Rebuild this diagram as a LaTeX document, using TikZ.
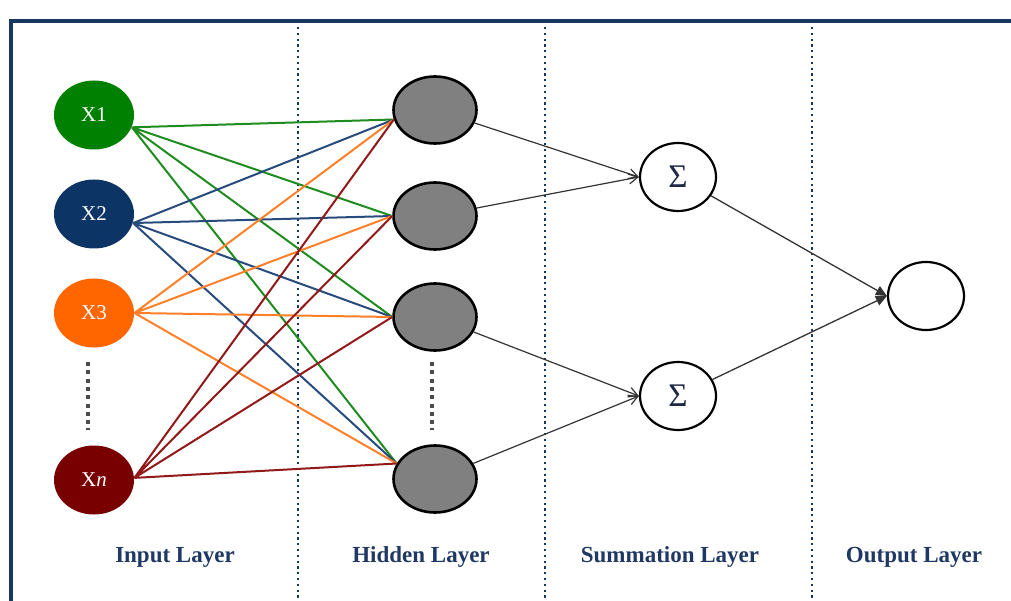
\documentclass[tikz,border=0pt]{standalone}
\usepackage{fontspec}
\setmainfont{Liberation Serif}
\usetikzlibrary{positioning, shapes.geometric, arrows.meta}

\definecolor{frameblue}{RGB}{23,55,94}
\definecolor{labelblue}{RGB}{31,56,100}
\definecolor{xgreen}{RGB}{0,128,0}
\definecolor{xblue}{RGB}{12,52,100}
\definecolor{xorange}{RGB}{255,102,0}
\definecolor{xred}{RGB}{120,0,0}
\definecolor{lgreen}{RGB}{30,140,30}
\definecolor{lblue}{RGB}{40,75,125}
\definecolor{lorange}{RGB}{255,128,40}
\definecolor{lred}{RGB}{145,25,25}
\definecolor{sigmablue}{RGB}{30,40,70}

\tikzset{
every picture/.style={
line width=1pt
}}

\begin{document}
\begin{tikzpicture}[x=1pt, y=1pt,
input/.style = {ellipse, minimum width=80pt, minimum height=69pt, inner sep=0pt, text=white, font=\fontsize{21}{24}\selectfont},
hidden/.style = {ellipse, draw=black, line width=2.6pt, fill=gray, minimum width=83pt, minimum height=67pt, inner sep=0pt},
sumnode/.style = {ellipse, draw=black, line width=2.2pt, fill=white, minimum width=76pt, minimum height=68pt, inner sep=0pt, text=sigmablue, font=\fontsize{33}{36}\selectfont},
layer/.style = {text=labelblue, font=\fontsize{23}{27}\selectfont\bfseries},
divider/.style = {draw=frameblue, line width=2.2pt, dash pattern=on 2.2pt off 3.6pt},
vdots/.style = {draw=black!70, line width=4pt, dash pattern=on 4pt off 4.3pt},
link/.style = {line width=2pt},
sumarrow/.style = {draw=black!80, line width=1.2pt, -{Straight Barb[length=9pt, width=10pt]}},
outarrow/.style = {draw=black!80, line width=1.3pt, -{Triangle[length=11pt, width=10pt]}},
node distance = 1cm]

\clip (0,0) rectangle (1011,-601);
\useasboundingbox (0,0) rectangle (1011,-601);

% frame and layer separators
\draw[frameblue, line width=3.5pt] (11,-21) rectangle (1040,-640);
\draw[divider] (298,-27) -- (298,-601);
\draw[divider] (545,-27) -- (545,-601);
\draw[divider] (812,-27) -- (812,-601);

\begin{scope}[on grid]

  \node[input, fill=xgreen] (x1) at (94,-115) {X1};
  \node[input, fill=xblue] (x2) [below=99pt of x1] {X2};
  \node[input, fill=xorange] (x3) [below=99pt of x2] {X3};
  \node[input, fill=xred] (xn) [below=167pt of x3] {X\textit{n}};

  \node[hidden] (h1) at (435,-110) {};
  \node[hidden] (h2) [below=106pt of h1] {};
  \node[hidden] (h3) [below=101pt of h2] {};
  \node[hidden] (h4) [below=162pt of h3] {};

  \node[sumnode] (s1) at (678,-177) {Σ};
  \node[sumnode] (s2) [below=219pt of s1] {Σ};

  \node[sumnode] (out) at (926,-296) {};

  \draw[vdots] (88,-362) -- (88,-430);
  \draw[vdots] (432,-362) -- (432,-430);

  \node[layer] (l_in) at (175,-557) {Input Layer};
  \node[layer] (l_hid) at (421,-557) {Hidden Layer};
  \node[layer] (l_sum) at (670,-557) {Summation Layer};
  \node[layer] (l_out) at (914,-557) {Output Layer};

\end{scope}

% input to hidden
\draw[link, lgreen] (x1.-18) -- (h1.193)  (x1.-18) -- (h2.180)  (x1.-18) -- (h3.180)  (x1.-18) -- (h4.158);
\draw[link, lblue] (x2.-13) -- (h1.193)  (x2.-13) -- (h2.180)  (x2.-13) -- (h3.180)  (x2.-13) -- (h4.158);
\draw[link, lorange] (x3.0) -- (h1.193)  (x3.0) -- (h2.180)  (x3.0) -- (h3.180)  (x3.0) -- (h4.158);
\draw[link, lred] (xn.3) -- (h1.193)  (xn.3) -- (h2.180)  (xn.3) -- (h3.180)  (xn.3) -- (h4.158);

% hidden to summation, summation to output
\draw[sumarrow] (h1) -- (s1.west);
\draw[sumarrow] (h2) -- (s1.west);
\draw[sumarrow] (h3) -- (s2.west);
\draw[sumarrow] (h4) -- (s2.west);

\draw[outarrow] (s1) -- (out.west);
\draw[outarrow] (s2) -- (out.west);

\end{tikzpicture}
\end{document}
